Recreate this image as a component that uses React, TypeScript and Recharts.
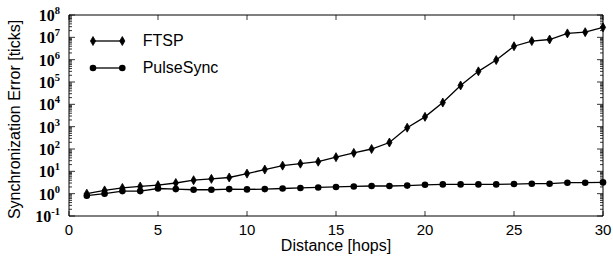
import { Legend, Line, LineChart, XAxis, YAxis } from 'recharts';

const hops = [1, 2, 3, 4, 5, 6, 7, 8, 9, 10, 11, 12, 13, 14, 15, 16, 17, 18, 19, 20, 21, 22, 23, 24, 25, 26, 27, 28, 29, 30];
const ftsp = [1.0, 1.4, 1.8, 2.1, 2.4, 3.0, 4.0, 4.6, 5.3, 7.9, 12, 18, 22, 27, 43, 67, 100, 195, 900, 2750, 12000, 70000, 300000, 960000, 4000000, 6800000, 8000000, 15000000, 17000000, 28000000];
const pulseSync = [0.81, 1.0, 1.3, 1.3, 1.7, 1.6, 1.5, 1.5, 1.6, 1.55, 1.6, 1.7, 1.8, 1.9, 2.0, 2.1, 2.2, 2.2, 2.3, 2.5, 2.6, 2.6, 2.6, 2.6, 2.7, 2.8, 2.8, 3.1, 3.1, 3.2];

const xTicks = [0, 5, 10, 15, 20, 25, 30];
const decades = [-1, 0, 1, 2, 3, 4, 5, 6, 7, 8];
const minorMult = [2, 3, 4, 5, 6, 7, 8, 9];

const yTicks: number[] = [];
decades.forEach((d) => {
  yTicks.push(Math.pow(10, d));
  if (d < 8) minorMult.forEach((m) => yTicks.push(m * Math.pow(10, d)));
});

const data = hops.map((h, i) => ({ hops: h, ftsp: ftsp[i], pulse: pulseSync[i] }));

const SANS = '"Liberation Sans", Arial, Helvetica, sans-serif';
const SERIF = '"Liberation Serif", "Times New Roman", serif';

const isDecade = (v: number) => {
  const l = Math.log10(v);
  return Math.abs(l - Math.round(l)) < 1e-6;
};

const Diamond = ({ cx, cy }: { cx: number; cy: number }) => (
  <path d={`M${cx},${cy - 4.5} L${cx + 2.6},${cy} L${cx},${cy + 4.5} L${cx - 2.6},${cy} Z`} fill="#000" stroke="#000" strokeWidth={0.8} />
);

const renderDiamond = (props: any) => <Diamond key={`d-${props.index}`} cx={props.cx} cy={props.cy} />;
const renderCircle = (props: any) => <circle key={`c-${props.index}`} cx={props.cx} cy={props.cy} r={3.3} fill="#000" />;

const LeftTick = (props: any) => {
  const { x, y, payload } = props;
  const v = payload.value;
  const major = isDecade(v);
  const exp = Math.round(Math.log10(v));
  return (
    <g>
      <line x1={x} y1={y} x2={x + (major ? 6 : 3)} y2={y} stroke="#000" strokeWidth={0.8} />
      {major && (
        <text x={x - 9} y={y + 6} textAnchor="end" fontFamily={SERIF} fontWeight="bold" fill="#000">
          <tspan fontSize={16}>10</tspan>
          <tspan fontSize={10.5} dy={-7}>{exp}</tspan>
        </text>
      )}
    </g>
  );
};

const RightTick = (props: any) => {
  const { x, y, payload } = props;
  const major = isDecade(payload.value);
  return <line x1={x} y1={y} x2={x - (major ? 6 : 3)} y2={y} stroke="#000" strokeWidth={0.8} />;
};

const BottomTick = (props: any) => {
  const { x, y, payload } = props;
  return (
    <g>
      <line x1={x} y1={y} x2={x} y2={y - 5} stroke="#000" strokeWidth={0.8} />
      <text x={x} y={y + 19} textAnchor="middle" fontFamily={SANS} fontSize={15} fill="#000">
        {payload.value}
      </text>
    </g>
  );
};

const TopTick = (props: any) => {
  const { x, y } = props;
  return <line x1={x} y1={y} x2={x} y2={y + 5} stroke="#000" strokeWidth={0.8} />;
};

const renderYLabel = (props: any) => {
  const vb = props.viewBox;
  const cy = vb.y + vb.height / 2 + 4;
  return (
    <text x={14} y={cy} transform={`rotate(-90, 14, ${cy})`} textAnchor="middle" dominantBaseline="central" fontFamily={SANS} fontSize={16} fill="#000">
      Synchronization Error [ticks]
    </text>
  );
};

const renderXLabel = (props: any) => {
  const vb = props.viewBox;
  return (
    <text x={vb.x + vb.width / 2} y={251} textAnchor="middle" fontFamily={SANS} fontSize={16} fill="#000">
      Distance [hops]
    </text>
  );
};

const legendItems = [
  { name: 'FTSP', marker: 'diamond' },
  { name: 'PulseSync', marker: 'circle' },
];

const renderLegend = () => (
  <div style={{ fontFamily: SANS, fontSize: 16, color: '#000' }}>
    {legendItems.map((it) => (
      <div key={it.name} style={{ display: 'flex', alignItems: 'center', height: 27 }}>
        <svg width={38} height={12} style={{ display: 'block' }}>
          <line x1={4} y1={6} x2={33.3} y2={6} stroke="#000" strokeWidth={1.3} />
          {it.marker === 'diamond' ? (
            <>
              <Diamond cx={4} cy={6} />
              <Diamond cx={33.3} cy={6} />
            </>
          ) : (
            <>
              <circle cx={4} cy={6} r={3.3} fill="#000" />
              <circle cx={33.3} cy={6} r={3.3} fill="#000" />
            </>
          )}
        </svg>
        <span style={{ marginLeft: 16 }}>{it.name}</span>
      </div>
    ))}
  </div>
);

export default function App() {
  return (
    <div style={{ position: 'absolute', left: 0, top: 0, background: '#fff' }}>
      <style>{'body{margin:0;background:#fff}'}</style>
      <LineChart width={613} height={256} data={data} margin={{ top: 14, right: 0, bottom: 0, left: 0 }}>
        <XAxis
          xAxisId="b"
          dataKey="hops"
          type="number"
          domain={[0, 30]}
          ticks={xTicks}
          orientation="bottom"
          height={40}
          tickSize={0}
          tickMargin={0}
          tickLine={false}
          axisLine={{ stroke: '#000', strokeWidth: 1 }}
          tick={<BottomTick />}
          label={renderXLabel}
          interval={0}
        />
        <XAxis
          xAxisId="t"
          dataKey="hops"
          type="number"
          domain={[0, 30]}
          ticks={xTicks}
          orientation="top"
          height={1}
          tickSize={0}
          tickMargin={0}
          tickLine={false}
          axisLine={{ stroke: '#000', strokeWidth: 1 }}
          tick={<TopTick />}
          interval={0}
        />
        <YAxis
          yAxisId="l"
          scale="log"
          type="number"
          domain={[0.1, 1e8]}
          allowDataOverflow
          ticks={yTicks}
          width={69}
          tickSize={0}
          tickMargin={0}
          tickLine={false}
          axisLine={{ stroke: '#000', strokeWidth: 1 }}
          tick={<LeftTick />}
          label={renderYLabel}
          interval={0}
        />
        <YAxis
          yAxisId="r"
          orientation="right"
          scale="log"
          type="number"
          domain={[0.1, 1e8]}
          allowDataOverflow
          ticks={yTicks}
          width={10}
          tickSize={0}
          tickMargin={0}
          tickLine={false}
          axisLine={{ stroke: '#000', strokeWidth: 1 }}
          tick={<RightTick />}
          interval={0}
        />
        <Legend layout="vertical" align="center" verticalAlign="middle" content={renderLegend} wrapperStyle={{ position: 'absolute', top: 27.5, left: 88.7, width: 'auto', height: 'auto', margin: 0 }} />
        <Line xAxisId="t" yAxisId="r" dataKey="pulse" stroke="none" dot={false} activeDot={false} legendType="none" isAnimationActive={false} />
        <Line xAxisId="b" yAxisId="l" dataKey="ftsp" name="FTSP" stroke="#000" strokeWidth={1.3} dot={renderDiamond} activeDot={false} isAnimationActive={false} />
        <Line xAxisId="b" yAxisId="l" dataKey="pulse" name="PulseSync" stroke="#000" strokeWidth={1.3} dot={renderCircle} activeDot={false} isAnimationActive={false} />
      </LineChart>
    </div>
  );
}
